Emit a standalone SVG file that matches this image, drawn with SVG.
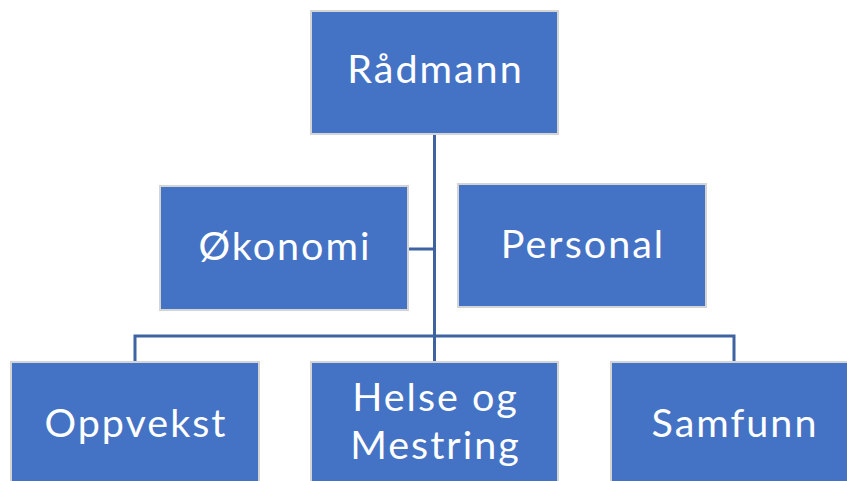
<svg xmlns="http://www.w3.org/2000/svg" width="847" height="481" viewBox="0 0 847 481">
<style>
.box{fill:#4472C4;stroke:#D4D4D4;stroke-width:2}
.lbl{fill:#FFFFFF;font-family:Lato,"Open Sans",sans-serif;font-size:39.5px;letter-spacing:2px;text-anchor:middle}
.con{fill:none;stroke:#3F62A0;stroke-width:3}
</style>
<rect width="847" height="481" fill="#FFFFFF"/>
<g id="connectors">
<path class="con" d="M434.5,135 V336"/>
<path class="con" d="M409,249 H434.5"/>
<path class="con" d="M135,361 V336 H734 V361"/>
<path class="con" d="M434.5,336 V361"/>
</g>
<g id="radmann"><rect class="box" x="311" y="11" width="247" height="123"/><text class="lbl" x="435.5" y="83">Rådmann</text></g>
<g id="okonomi"><rect class="box" x="160" y="186" width="248" height="124"/><text class="lbl" x="285" y="260">Økonomi</text></g>
<g id="personal"><rect class="box" x="458" y="184" width="248" height="123"/><text class="lbl" x="583" y="258">Personal</text></g>
<g id="oppvekst"><rect class="box" x="11" y="362" width="248" height="125"/><text class="lbl" x="136" y="437">Oppvekst</text></g>
<g id="helse"><rect class="box" x="311" y="362" width="247" height="125"/><text class="lbl" x="435.5" y="411">Helse og</text><text class="lbl" x="435.5" y="459">Mestring</text></g>
<g id="samfunn"><rect class="box" x="611" y="362" width="247" height="125"/><text class="lbl" x="735" y="437">Samfunn</text></g>
</svg>
